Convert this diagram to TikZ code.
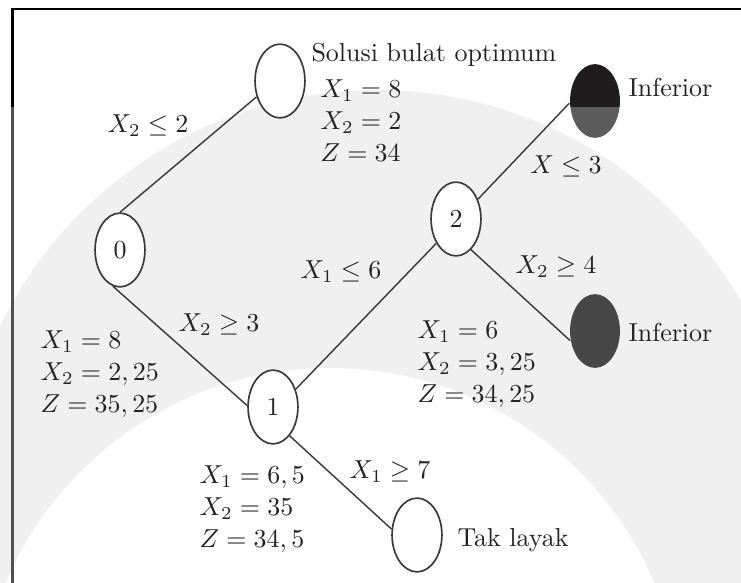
\documentclass[tikz,border=0pt]{standalone}
\usepackage{amssymb}
\usetikzlibrary{shapes.geometric}
\definecolor{ink}{HTML}{222222}
\definecolor{edgec}{HTML}{3A3A3A}
\definecolor{wm}{HTML}{F0F0F0}
\definecolor{topblack}{HTML}{201C1D}
\definecolor{lowgray}{HTML}{5C5C5C}
\definecolor{darkfill}{HTML}{474747}
\definecolor{framegray}{HTML}{505050}
\tikzset{
  bbnode/.style={ellipse, draw=edgec, line width=0.65pt, minimum width=19.2pt, minimum height=28.4pt, inner sep=0pt, text=ink, fill=white},
  conn/.style={draw=edgec, line width=0.55pt},
  lbl/.style={text=ink, inner sep=0pt},
  block/.style={text=ink, inner sep=0pt, align=left, anchor=west, font={\fontsize{10}{12.3}\selectfont}},
}
\begin{document}
\begin{tikzpicture}[x=0.385pt, y=-0.385pt]
\useasboundingbox (0,0) rectangle (741,583);
% faint watermark background
\begin{scope}
\clip (0,0) rectangle (741,583);
\fill[wm] (377,509) circle[radius=161.3pt];
\fill[white] (330,720) circle[radius=135.5pt];
\end{scope}
% frame
\draw[framegray, line width=0.8pt] (12.5,583) -- (12.5,105);
\draw[black, line width=0.8pt] (12.5,107) -- (12.5,9) -- (741,9);
% tree nodes
\node[bbnode] (top) at (280,81) {};
\node[bbnode] (n0) at (120,250) {0};
\node[bbnode] (n1) at (273,407) {1};
\node[bbnode] (n2) at (456,219) {2};
\node[bbnode, draw=none, path picture={
  \fill[topblack] (path picture bounding box.north west) rectangle ([yshift=-2.3pt]path picture bounding box.east);
  \fill[lowgray] ([yshift=-2.3pt]path picture bounding box.west) rectangle (path picture bounding box.south east);
}] (infA) at (595,101) {};
\node[bbnode, draw=none, fill=darkfill] (infB) at (595,331) {};
\node[bbnode] (tak) at (417,535) {};
% connectors
\draw[conn] (n0.north) -- (top.214);
\draw[conn] (n0.259) -- (n1.177);
\draw[conn] (n1.38) -- (n2.231);
\draw[conn] (n2.42) -- (infA.185);
\draw[conn] (n2.296) -- (infB.201);
\draw[conn] (n1.300) -- (tak.167);
% branch labels
\node[lbl] (l1) at (148,126) {$X_2 \leq 2$};
\node[lbl] (l2) at (219,325) {$X_2 \geq 3$};
\node[lbl] (l3) at (341,272) {$X_1 \leq 6$};
\node[lbl] (l4) at (566,166) {$X \leq 3$};
\node[lbl] (l5) at (556,267) {$X_2 \geq 4$};
\node[lbl] (l6) at (390,472) {$X_1 \geq 7$};
% status labels
\node[lbl, anchor=base west] (hdr) at (311,62) {Solusi bulat optimum};
\node[lbl, anchor=base west] (tinfA) at (628,97) {Inferior};
\node[lbl, anchor=base west] (tinfB) at (628,342) {Inferior};
\node[lbl, anchor=base west] (ttak) at (457,547) {Tak layak};
% solution blocks
\node[block] (bsol) at (320,121) {$X_1 = 8$\\ $X_2 = 2$\\ $Z = 34$};
\node[block] (b0) at (40,374) {$X_1 = 8$\\ $X_2 = 2,25$\\ $Z = 35,25$};
\node[block] (b1) at (199,509) {$X_1 = 6,5$\\ $X_2 = 35$\\ $Z = 34,5$};
\node[block] (b2) at (417,364) {$X_1 = 6$\\ $X_2 = 3,25$\\ $Z = 34,25$};
\end{tikzpicture}
\end{document}
